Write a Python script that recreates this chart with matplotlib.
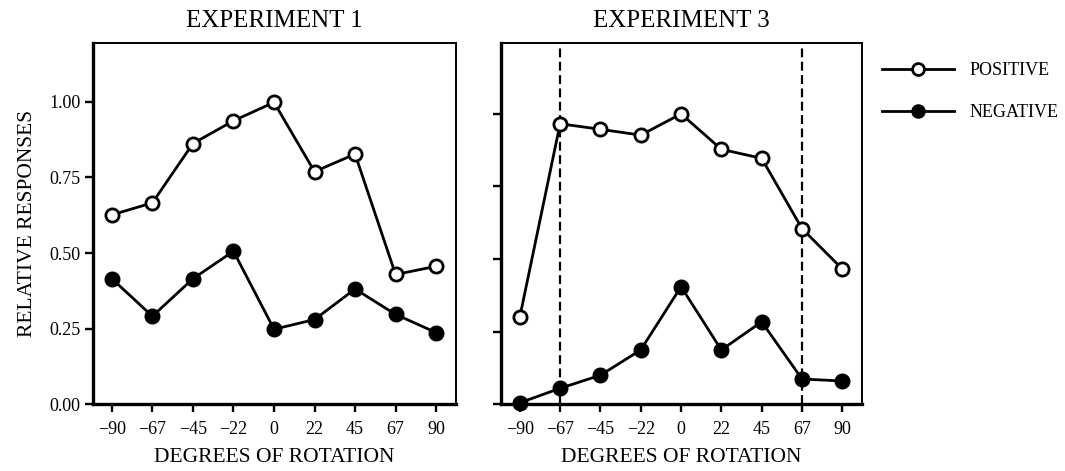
import matplotlib

matplotlib.use("Agg")
import matplotlib.pyplot as plt

# 1. DATA
rotation = [-90, -67.5, -45, -22.5, 0, 22.5, 45, 67.5, 90]
tick_labels = ["−90", "−67", "−45", "−22", "0", "22", "45", "67", "90"]
y_ticks = [0.0, 0.25, 0.5, 0.75, 1.0]
y_tick_labels = ["0.00", "0.25", "0.50", "0.75", "1.00"]

exp1_positive = [0.626, 0.666, 0.862, 0.937, 0.998, 0.769, 0.827, 0.429, 0.456]
exp1_negative = [0.415, 0.291, 0.415, 0.506, 0.248, 0.280, 0.381, 0.297, 0.237]

exp3_positive = [0.300, 0.966, 0.947, 0.927, 1.000, 0.878, 0.847, 0.605, 0.466]
exp3_negative = [0.005, 0.055, 0.100, 0.187, 0.405, 0.187, 0.284, 0.087, 0.080]
exp3_cutoffs = [-67.5, 67.5]

# 2. STYLE
plt.rcParams["font.family"] = ["Liberation Serif", "DejaVu Serif"]
plt.rcParams["axes.unicode_minus"] = True

fig = plt.figure(figsize=(10.65, 4.71), dpi=100)
ax1 = fig.add_axes([0.0873, 0.1417, 0.3408, 0.7675])
ax2 = fig.add_axes([0.4704, 0.1417, 0.3390, 0.7675])


def style_axes(ax, ytop, show_labels):
    ax.set_xlim(-100.5, 101)
    ax.set_ylim(0, ytop)
    ax.set_xticks(rotation)
    ax.set_xticklabels(tick_labels, fontsize=13)
    ax.set_yticks(y_ticks)
    if show_labels:
        ax.set_yticklabels(y_tick_labels, fontsize=13)
    else:
        ax.set_yticklabels([])
    ax.tick_params(axis="both", direction="out", length=6, width=1.7)
    ax.tick_params(axis="x", pad=6)
    ax.tick_params(axis="y", pad=3)
    ax.spines["left"].set_linewidth(2.4)
    ax.spines["bottom"].set_linewidth(2.4)
    ax.spines["top"].set_linewidth(1.4)
    ax.spines["right"].set_linewidth(1.4)
    ax.set_xlabel("DEGREES OF ROTATION", fontsize=15.5, labelpad=7)


def plot_series(ax, pos, neg):
    ax.plot(rotation, pos, color="black", lw=2, marker="o", ms=9.5,
            mfc="white", mec="black", mew=2, label="POSITIVE",
            clip_on=False, zorder=3)
    ax.plot(rotation, neg, color="black", lw=2, marker="o", ms=10.5,
            mfc="black", mec="black", label="NEGATIVE",
            clip_on=False, zorder=3)


# 3. EXPERIMENT 1
plot_series(ax1, exp1_positive, exp1_negative)
style_axes(ax1, 1.195, True)
ax1.set_title("EXPERIMENT 1", fontsize=18, pad=11)
ax1.set_ylabel("RELATIVE RESPONSES", fontsize=15.5, labelpad=9)

# 4. EXPERIMENT 3
for c in exp3_cutoffs:
    ax2.axvline(c, color="black", lw=1.6, linestyle=(0, (4, 2)), zorder=1)
plot_series(ax2, exp3_positive, exp3_negative)
style_axes(ax2, 1.245, False)
ax2.set_title("EXPERIMENT 3", fontsize=18, pad=11)

# 5. LEGEND
handles, labels = ax2.get_legend_handles_labels()
fig.legend(handles, labels, loc="upper left", bbox_to_anchor=(0.828, 0.868),
           frameon=False, fontsize=13, handlelength=4.0, handletextpad=0.85,
           labelspacing=1.4, borderpad=0, borderaxespad=0, markerscale=0.9)

plt.savefig("out.png", dpi=100)
